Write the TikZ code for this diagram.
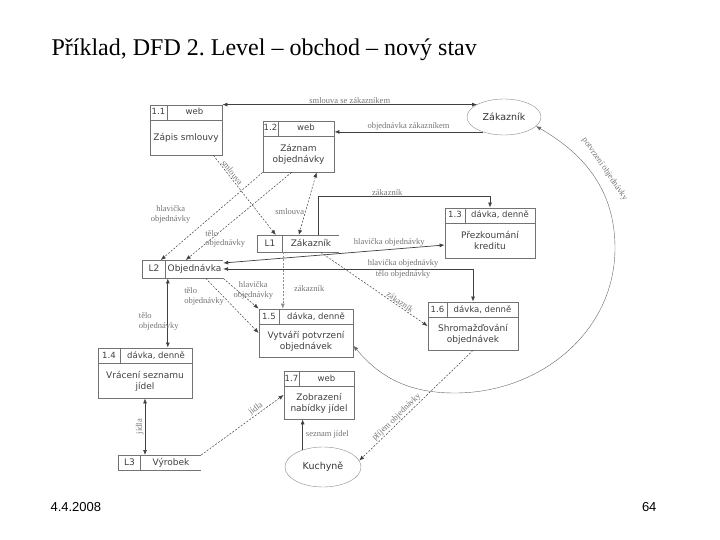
\documentclass[tikz,border=0pt]{standalone}
\usepackage{fontspec}
\setmainfont{Liberation Serif}
\newfontfamily\dfdfont{DejaVu Sans}
\newfontfamily\footfont{Liberation Sans}
\usetikzlibrary{arrows.meta,shapes.geometric,positioning}
\frenchspacing

\tikzstyle{procbox} = [draw=black!55, line width=0.8pt, inner sep=0pt]
\tikzstyle{headcell} = [draw=black!55, line width=0.8pt, minimum height=15pt, inner sep=0pt, text height=6.5pt, text depth=1.5pt, font=\dfdfont\fontsize{8.5}{9}\selectfont, text=black!75]
\tikzstyle{bodytext} = [align=center, inner sep=0pt, font=\dfdfont\fontsize{9}{11}\selectfont, text=black!75]
\tikzstyle{extern} = [ellipse, draw=black!45, inner sep=0pt, font=\dfdfont\fontsize{9.5}{11}\selectfont, text=black!80]
\tikzstyle{storeid} = [draw=black!55, line width=0.8pt, inner sep=0pt, text height=6.5pt, text depth=1.5pt, font=\dfdfont\fontsize{9}{10}\selectfont, text=black!75]
\tikzstyle{storename} = [inner sep=0pt, text height=6.5pt, text depth=1.5pt, font=\dfdfont\fontsize{9}{10}\selectfont, text=black!75]
\tikzstyle{storeline} = [draw=black!55, line width=0.8pt]
\tikzstyle{flow} = [draw=black!75, line width=0.7pt, -{Latex[length=5pt,width=4pt]}]
\tikzstyle{dflow} = [flow, line width=0.5pt, dash pattern=on 2pt off 1.5pt]
\tikzstyle{twoway} = [{Latex[length=5pt,width=4pt]}-{Latex[length=5pt,width=4pt]}]
\tikzstyle{lbl} = [font=\fontsize{8.5}{9.5}\selectfont, text=black!55, inner sep=1pt]

% process: name, centre, width, height, number width, number, header, body
\newcommand{\dfdproc}[8]{%
  \node[procbox, minimum width=#3pt, minimum height=#4pt] (#1) at #2 {};
  \node[headcell, anchor=north west, minimum width=#5pt] (#1n) at (#1.north west) {#6};
  \node[headcell, anchor=north east, minimum width=#3pt-#5pt] (#1h) at (#1.north east) {#7};
  \path (#1n.south -| #1.center) -- (#1.south) node[midway, bodytext] (#1b) {#8};
}
% store: name, top left, width, height, id width, id, label
\newcommand{\dfdstore}[7]{%
  \node[storeid, anchor=north west, minimum width=#5pt, minimum height=#4pt] (#1i) at #2 {#6};
  \node[storename, anchor=north west, minimum width=#3pt-#5pt, minimum height=#4pt] (#1) at (#1i.north east) {#7};
  \draw[storeline] (#1.north west) -- (#1.north east) (#1.south west) -- (#1.south east);
}

\begin{document}
\begin{tikzpicture}[x=1pt, y=1pt]
\useasboundingbox (0,0) rectangle (720,-540);

\node[anchor=base west, font=\fontsize{24}{28}\selectfont] (title) at (48,-56) {Příklad, DFD 2. Level – obchod – nový stav};

\dfdproc{p11}{(186,-130)}{72}{50}{17}{1.1}{web}{Zápis smlouvy}
\dfdproc{p12}{(298.5,-146.5)}{71}{51}{15}{1.2}{web}{Záznam\\objednávky}
\dfdproc{p13}{(490,-233)}{90}{50}{20}{1.3}{dávka, denně}{Přezkoumání\\kreditu}
\dfdproc{p14}{(145,-373)}{94}{50}{22}{1.4}{dávka, denně}{Vrácení seznamu\\jídel}
\dfdproc{p15}{(306,-333)}{94}{48}{20}{1.5}{dávka, denně}{Vytváří potvrzení\\objednávek}
\dfdproc{p16}{(473,-326)}{90}{48}{19}{1.6}{dávka, denně}{Shromažďování\\objednávek}
\dfdproc{p17}{(319,-395)}{70}{48}{15}{1.7}{web}{Zobrazení\\nabídky jídel}

\dfdstore{l1}{(257,-235)}{81}{17}{25}{L1}{Zákazník}
\dfdstore{l2}{(142,-260)}{80}{18}{23}{L2}{Objednávka}
\dfdstore{l3}{(118,-455)}{82}{15}{22}{L3}{Výrobek}

\node[extern, minimum width=74pt, minimum height=36pt] (zak) at (504,-117) {Zákazník};
\node[extern, minimum width=76pt, minimum height=40pt] (kuch) at (323,-467) {Kuchyně};

% flows
\draw[flow, twoway] (p11.north east) -- (p11.north east -| zak.155) node[midway, above, lbl] {smlouva se zákazníkem};
\draw[flow] (zak.215) -- (zak.215 -| p12.east) node[midway, above, lbl] {objednávka zákazníkem};
\draw[dflow] ([xshift=-9pt]p11.south east) -- ([xshift=-7pt]l1i.north east) node[pos=.25, sloped, above, lbl] {smlouva};
\draw[dflow] (p12.south west) -- ([xshift=-5pt]l2i.north east) node[pos=.48, left=22pt, lbl, align=center] {hlavička\\objednávky};
\draw[dflow] ([xshift=29pt]p12.south west) -- ([xshift=20pt]l2.north west) node[pos=.76, xshift=14pt, lbl, align=left] {tělo\\objednávky};
\draw[dflow, twoway] ([xshift=54pt]p12.south west) -- ([xshift=16pt]l1.north west) node[pos=.63, left, lbl] {smlouva};
\draw[flow] ([xshift=36pt]l1.north west) |- node[pos=.7, above, lbl] {zákazník} ([yshift=11pt]p13.north) -- (p13.north);
\draw[flow, twoway] ([yshift=-3pt]l2.north east) -- ([yshift=-12pt]p13.west) node[pos=.75, above=2pt, lbl] {hlavička objednávky};
\draw[flow, twoway] ([yshift=-9pt]l2.north east) -| node[pos=.36, above, lbl] {hlavička objednávky} node[pos=.36, below, lbl] {tělo objednávky} (p16.north);
\draw[dflow] ([xshift=38pt]l1.south west) -- (p16.west) node[pos=.72, sloped, above, lbl] {zákazník};
\draw[dflow, draw=black!45] (l1.south west) -- (l1.south west |- p15.north) node[pos=.65, right=10pt, lbl] {zákazník};
\draw[dflow] (l2.south east) -- (p15.north west) node[pos=.4, xshift=16pt, lbl, align=center] {hlavička\\objednávky};
\draw[dflow] ([xshift=40pt]l2.south west) -- (p15.west) node[pos=.33, left=-2pt, lbl, align=left] {tělo\\objednávky};
\draw[flow, twoway] ([xshift=2pt]l2.south west) -- ([xshift=2pt]l2.south west |- p14.north) node[pos=.62, xshift=-9pt, lbl, align=left] {tělo\\objednávky};
\draw[flow, twoway] (p14.south |- l3.north) -- (p14.south) node[midway, sloped, above, lbl] {jídla};
\draw[dflow] (l3.north east) -- (p17.west) node[pos=.7, sloped, above, lbl] {jídla};
\draw[flow] (kuch.140) -- (kuch.140 |- p17.south) node[midway, right=2pt, lbl] {seznam jídel};
\draw[dflow] (p16.south) -- (kuch.10) node[pos=.64, sloped, above, lbl] {příjem objednávky};
\draw[flow, twoway, line width=0.4pt, draw=black!60] (p15.-15) to[out=-50, in=180] (455,-393) to[out=0, in=-90] (615,-248) to[out=90, in=-30] node[pos=.5, sloped, above=8pt, lbl] {potvrzení objednávky} (zak.-16);

\node[anchor=base west, font=\footfont\fontsize{13}{15}\selectfont] (date) at (47,-511) {4.4.2008};
\node[anchor=base east, font=\footfont\fontsize{13}{15}\selectfont] (page) at (660,-511) {64};
\end{tikzpicture}
\end{document}
